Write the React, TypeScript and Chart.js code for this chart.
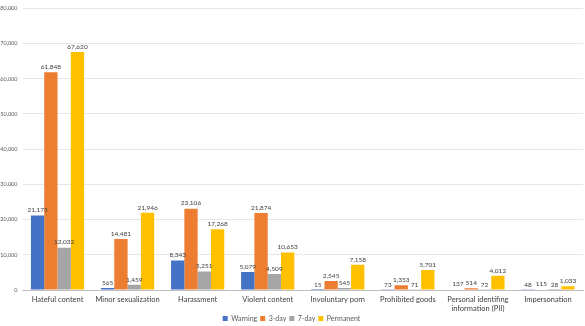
import React, { useEffect, useRef } from "react";
import { Chart, registerables } from "chart.js";

Chart.register(...registerables);

const categories: (string | string[])[] = [
  "Hateful content",
  "Minor sexualization",
  "Harassment",
  "Violent content",
  "Involuntary porn",
  "Prohibited goods",
  ["Personal identifing", "information (PII)"],
  "Impersonation",
];
const warning = [21175, 565, 8343, 5079, 15, 73, 137, 48];
const threeDay = [61848, 14481, 23106, 21874, 2545, 1353, 514, 115];
const sevenDay = [12032, 1459, 5251, 4509, 545, 71, 72, 28];
const permanent = [67620, 21946, 17268, 10653, 7158, 5701, 4012, 1033];
const seriesNames = ["Warning", "3-day", "7-day", "Permanent"];
const seriesColors = ["#4472C4", "#ED7D31", "#A5A5A5", "#FFC000"];

const FONT = "Lato, 'Liberation Sans', sans-serif";

const valueLabels = {
  id: "valueLabels",
  afterDatasetsDraw(chart: any) {
    const ctx = chart.ctx;
    ctx.save();
    ctx.font = `6.5px ${FONT}`;
    ctx.fillStyle = "#404040";
    ctx.textAlign = "center";
    ctx.textBaseline = "bottom";
    chart.data.datasets.forEach((ds: any, i: number) => {
      const meta = chart.getDatasetMeta(i);
      meta.data.forEach((bar: any, j: number) => {
        const v = ds.data[j];
        ctx.fillText(v.toLocaleString("en-US"), bar.x, bar.y - 2);
      });
    });
    ctx.restore();
  },
};

export default function App() {
  const ref = useRef<HTMLCanvasElement>(null);
  useEffect(() => {
    if (!ref.current) return;
    const data = [warning, threeDay, sevenDay, permanent];
    const chart = new Chart(ref.current, {
      type: "bar",
      data: {
        labels: categories,
        datasets: data.map((d, i) => ({
          label: seriesNames[i],
          data: d,
          backgroundColor: seriesColors[i],
          borderWidth: 0,
          categoryPercentage: 0.76,
          barPercentage: 1,
        })),
      },
      options: {
        animation: false,
        responsive: false,
        maintainAspectRatio: false,
        layout: { padding: { top: -6, right: 2, left: 0, bottom: -6 } },
        plugins: {
          legend: {
            position: "bottom",
            labels: {
              boxWidth: 5,
              boxHeight: 5,
              padding: 3,
              font: { size: 7, family: FONT },
              color: "#595959",
            },
          },
          tooltip: { enabled: false },
        },
        scales: {
          x: {
            grid: { display: false, drawTicks: false },
            border: { color: "#BFBFBF", width: 1 },
            ticks: {
              font: { size: 7.5, family: FONT },
              color: "#404040",
              maxRotation: 0,
              autoSkip: false,
              padding: 5,
            },
            afterFit: (s: any) => {
              s.height = 22;
            },
          },
          y: {
            min: 0,
            max: 80000,
            grid: { color: "#E6E6E6", drawTicks: false },
            border: { display: false },
            ticks: {
              stepSize: 10000,
              font: { size: 5.5, family: FONT },
              color: "#595959",
              padding: 5,
              callback: (v: any) => Number(v).toLocaleString("en-US"),
            },
            afterFit: (s: any) => {
              s.width = 22.5;
            },
          },
        },
      },
      plugins: [valueLabels],
    });
    return () => chart.destroy();
  }, []);
  return (
    <div style={{ position: "absolute", left: 0, top: 0, width: 585, height: 326, background: "#fff" }}>
      <canvas ref={ref} width={585} height={326} />
    </div>
  );
}
